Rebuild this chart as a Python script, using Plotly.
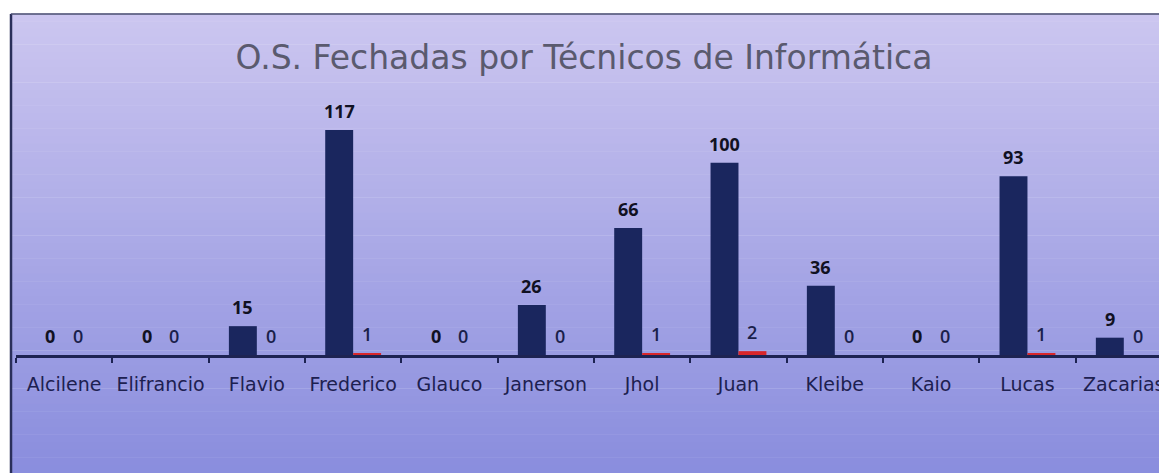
import plotly.graph_objects as go

categories = ["Alcilene", "Elifrancio", "Flavio", "Frederico", "Glauco", "Janerson",
              "Jhol", "Juan", "Kleibe", "Kaio", "Lucas", "Zacarias"]
series_blue = [0, 0, 15, 117, 0, 26, 66, 100, 36, 0, 93, 9]
series_red = [0, 0, 0, 1, 0, 0, 1, 2, 0, 0, 1, 0]
title_text = "O.S. Fechadas por Técnicos de Informática"

# page body has an 8px margin; work in reference coordinates and shift
OFF = 8
W, H = 1167 - OFF, 473 - OFF


def px(x):
    return (x - OFF) / W


def py(y):
    return 1 - (y - OFF) / H


x_left = 16
cat_w = 96.33
axis_y = 355
px_per_unit = 1.923
plot_top = 95
bargap = 0.42
bar_w_px = (1 - bargap) / 2 * cat_w

fig = go.Figure()
fig.add_trace(go.Bar(
    x=categories, y=series_blue, name="blue",
    marker=dict(color="#1a265e", line=dict(width=0)),
    cliponaxis=False,
))
fig.add_trace(go.Bar(
    x=categories, y=series_red, name="red",
    marker=dict(color="#d8262a", line=dict(width=0)),
    cliponaxis=False,
))

annotations = []
for cat, vb, vr in zip(categories, series_blue, series_red):
    annotations.append(dict(x=cat, y=vb, xref="x", yref="y", text="<b>%d</b>" % vb,
                            showarrow=False, xanchor="center", yanchor="middle",
                            xshift=-bar_w_px / 2, yshift=19,
                            font=dict(family="Open Sans", size=18, color="#111122")))
    annotations.append(dict(x=cat, y=vr, xref="x", yref="y", text="%d" % vr,
                            showarrow=False, xanchor="center", yanchor="middle",
                            xshift=bar_w_px / 2, yshift=19,
                            font=dict(family="Open Sans", size=18, color="#1a1f4a",
                                      weight=600)))

# gradient background via stacked shapes
shapes = []
n = 60
top_c = (204, 198, 240)
bot_c = (138, 142, 222)
y_top = py(14)
for i in range(n):
    t = i / (n - 1)
    c = tuple(int(top_c[k] + (bot_c[k] - top_c[k]) * t) for k in range(3))
    ya = y_top - y_top * i / n
    yb = y_top - y_top * (i + 1) / n
    shapes.append(dict(type="rect", xref="paper", yref="paper",
                       x0=px(10), x1=1.0, y0=yb, y1=ya + 0.001,
                       fillcolor="rgb(%d,%d,%d)" % c, line=dict(width=0),
                       layer="below"))
# border
shapes.append(dict(type="line", xref="paper", yref="paper", x0=px(11), x1=px(11),
                   y0=0, y1=y_top, line=dict(color="#2a2f5a", width=2.5), layer="below"))
shapes.append(dict(type="line", xref="paper", yref="paper", x0=px(11), x1=1,
                   y0=y_top, y1=y_top, line=dict(color="#4a4f70", width=1.5), layer="below"))

y_dom0 = py(axis_y)
y_dom1 = py(plot_top)
y_max = (axis_y - plot_top) / px_per_unit
x_max = -0.5 + (1167 - x_left) / cat_w

fig.update_layout(
    width=W, height=H,
    margin=dict(l=0, r=0, t=0, b=0, autoexpand=False),
    paper_bgcolor="white",
    plot_bgcolor="rgba(0,0,0,0)",
    showlegend=False,
    barmode="group",
    bargap=bargap,
    bargroupgap=0.0,
    shapes=shapes,
    annotations=annotations,
    title=dict(text=title_text, x=px(584), xanchor="center", y=py(57), yanchor="middle",
               font=dict(family="DejaVu Sans", size=33, color="#5a5a6e")),
    xaxis=dict(domain=[px(x_left), 1], range=[-0.5, x_max], type="category",
               automargin=False, tickangle=0,
               showline=True, linecolor="#1d2352", linewidth=3,
               ticks="outside", tickson="boundaries", ticklen=5, tickcolor="#1d2352",
               tickwidth=2, showgrid=False,
               tickfont=dict(family="DejaVu Sans", size=19, color="#1d2050"),
               ticklabelstandoff=10),
    yaxis=dict(domain=[y_dom0, y_dom1], range=[0, y_max], visible=False, showgrid=False,
               zeroline=False),
)

fig.write_html("out.html")
